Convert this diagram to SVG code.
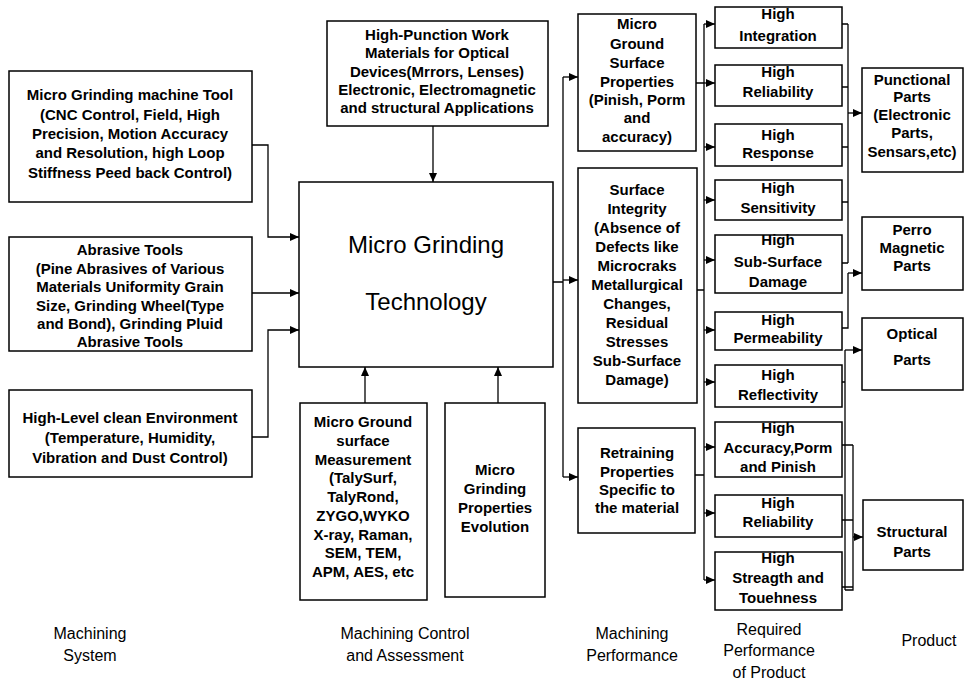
<svg xmlns="http://www.w3.org/2000/svg" width="964" height="684" viewBox="0 0 964 684">
<defs>
<marker id="ah" markerUnits="userSpaceOnUse" markerWidth="9" markerHeight="8" refX="9" refY="4" orient="auto">
<path d="M0,0 L9,4 L0,8 z" fill="#000"/>
</marker>
<style>
.box{fill:#fff;stroke:#000;stroke-width:1.5}
.t{font-family:"Liberation Sans",Arial,sans-serif;font-weight:bold;font-size:15px;text-anchor:middle;fill:#000}
.big{font-family:"Liberation Sans",Arial,sans-serif;font-size:24px;text-anchor:middle;fill:#000}
.lab{font-family:"Liberation Sans",Arial,sans-serif;font-size:16px;text-anchor:middle;fill:#000}
.c{fill:none;stroke:#000;stroke-width:1.3}
.a{fill:none;stroke:#000;stroke-width:1.3;marker-end:url(#ah)}
</style>
</defs>
<rect width="964" height="684" fill="#fff"/>

<g id="connectors">
<path class="a" d="M252,145 H268 V237 H299"/>
<path class="a" d="M252,293 H299"/>
<path class="a" d="M252,437 H268 V330 H299"/>
<path class="a" d="M433,126 V182"/>
<path class="a" d="M365,403 V367"/>
<path class="a" d="M498,403 V367"/>
<path class="c" d="M553,282 H563 M563,77 V477"/>
<path class="a" d="M563,77 H578"/>
<path class="a" d="M563,280 H578"/>
<path class="a" d="M563,477 H578"/>
<path class="c" d="M696,83 H704 M697,290 H704 M695,475 H704 M704,24 V580"/>
<path class="a" d="M704,24 H715"/>
<path class="a" d="M704,83 H715"/>
<path class="a" d="M704,147 H715"/>
<path class="a" d="M704,200 H715"/>
<path class="a" d="M704,260 H715"/>
<path class="a" d="M704,330 H715"/>
<path class="a" d="M704,382 H715"/>
<path class="a" d="M704,447 H715"/>
<path class="a" d="M704,513 H715"/>
<path class="a" d="M704,580 H715"/>
<path class="c" d="M842,24 H848 M842,87 H848 M842,147 H848 M842,202 H848 M842,263 H848 M848,24 V263"/>
<path class="a" d="M848,113 H862"/>
<path class="c" d="M842,328 H848 V273"/>
<path class="a" d="M848,273 H862"/>
<path class="c" d="M842,382 H845 M845,350 V590"/>
<path class="a" d="M845,350 H862"/>
<path class="c" d="M842,445 H853 M842,520 H853 M842,587 H853 M853,445 V590 H845"/>
<path class="a" d="M853,537 H863"/>
</g>

<g id="n-machine-tool">
<rect class="box" x="9" y="71" width="243" height="131"/>
<text class="t" x="130" y="100">Micro Grinding machine Tool</text>
<text class="t" x="130" y="120">(CNC Control, Field, High</text>
<text class="t" x="130" y="139">Precision, Motion Accuracy</text>
<text class="t" x="130" y="158">and Resolution, high Loop</text>
<text class="t" x="130" y="178">Stiffness Peed back Control)</text>
</g>
<g id="n-abrasive">
<rect class="box" x="9" y="237" width="243" height="114"/>
<text class="t" x="130" y="255">Abrasive Tools</text>
<text class="t" x="130" y="273.5">(Pine Abrasives of Various</text>
<text class="t" x="130" y="292">Materials Uniformity Grain</text>
<text class="t" x="130" y="310.5">Size, Grinding Wheel(Type</text>
<text class="t" x="130" y="329">and Bond), Grinding Pluid</text>
<text class="t" x="130" y="347">Abrasive Tools</text>
</g>
<g id="n-environment">
<rect class="box" x="9" y="390" width="243" height="87"/>
<text class="t" x="130" y="423">High-Level clean Environment</text>
<text class="t" x="130" y="443">(Temperature, Humidity,</text>
<text class="t" x="130" y="463">Vibration and Dust Control)</text>
</g>
<g id="n-materials">
<rect class="box" x="327" y="21" width="221" height="105"/>
<text class="t" x="437" y="40">High-Punction Work</text>
<text class="t" x="437" y="58">Materials for Optical</text>
<text class="t" x="437" y="77">Devices(Mrrors, Lenses)</text>
<text class="t" x="437" y="95">Electronic, Electromagnetic</text>
<text class="t" x="437" y="113">and structural Applications</text>
</g>
<g id="n-center">
<rect class="box" x="299" y="182" width="254" height="185"/>
<text class="big" x="426" y="253">Micro Grinding</text>
<text class="big" x="426" y="310">Technology</text>
</g>
<g id="n-measurement">
<rect class="box" x="300" y="403" width="127" height="197"/>
<text class="t" x="363" y="427">Micro Ground</text>
<text class="t" x="363" y="446">surface</text>
<text class="t" x="363" y="465">Measurement</text>
<text class="t" x="363" y="483">(TalySurf,</text>
<text class="t" x="363" y="502">TalyRond,</text>
<text class="t" x="363" y="521">ZYGO,WYKO</text>
<text class="t" x="363" y="540">X-ray, Raman,</text>
<text class="t" x="363" y="558">SEM, TEM,</text>
<text class="t" x="363" y="577">APM, AES, etc</text>
</g>
<g id="n-evolution">
<rect class="box" x="445" y="403" width="100" height="194"/>
<text class="t" x="495" y="475">Micro</text>
<text class="t" x="495" y="494">Grinding</text>
<text class="t" x="495" y="513">Properties</text>
<text class="t" x="495" y="532">Evolution</text>
</g>
<g id="n-surface-props">
<rect class="box" x="578" y="14" width="118" height="137"/>
<text class="t" x="637" y="29">Micro</text>
<text class="t" x="637" y="49">Ground</text>
<text class="t" x="637" y="68">Surface</text>
<text class="t" x="637" y="87">Properties</text>
<text class="t" x="637" y="105">(Pinish, Porm</text>
<text class="t" x="637" y="123">and</text>
<text class="t" x="637" y="142">accuracy)</text>
</g>
<g id="n-integrity">
<rect class="box" x="578" y="168" width="119" height="235"/>
<text class="t" x="637" y="195">Surface</text>
<text class="t" x="637" y="214">Integrity</text>
<text class="t" x="637" y="233">(Absence of</text>
<text class="t" x="637" y="252">Defects like</text>
<text class="t" x="637" y="271">Microcraks</text>
<text class="t" x="637" y="290">Metallurgical</text>
<text class="t" x="637" y="309">Changes,</text>
<text class="t" x="637" y="328">Residual</text>
<text class="t" x="637" y="347">Stresses</text>
<text class="t" x="637" y="366">Sub-Surface</text>
<text class="t" x="637" y="385">Damage)</text>
</g>
<g id="n-retraining">
<rect class="box" x="578" y="428" width="117" height="105"/>
<text class="t" x="637" y="458">Retraining</text>
<text class="t" x="637" y="477">Properties</text>
<text class="t" x="637" y="495">Specific to</text>
<text class="t" x="637" y="513">the material</text>
</g>

<g id="n-rp1"><rect class="box" x="715" y="7" width="127" height="41"/>
<text class="t" x="778" y="19">High</text><text class="t" x="778" y="41">Integration</text></g>
<g id="n-rp2"><rect class="box" x="715" y="65" width="127" height="41"/>
<text class="t" x="778" y="77">High</text><text class="t" x="778" y="97">Reliability</text></g>
<g id="n-rp3"><rect class="box" x="715" y="124" width="127" height="42"/>
<text class="t" x="778" y="140">High</text><text class="t" x="778" y="158">Response</text></g>
<g id="n-rp4"><rect class="box" x="715" y="180" width="127" height="40"/>
<text class="t" x="778" y="193">High</text><text class="t" x="778" y="213">Sensitivity</text></g>
<g id="n-rp5"><rect class="box" x="715" y="235" width="127" height="58"/>
<text class="t" x="778" y="245">High</text><text class="t" x="778" y="267">Sub-Surface</text><text class="t" x="778" y="287">Damage</text></g>
<g id="n-rp6"><rect class="box" x="715" y="312" width="127" height="38"/>
<text class="t" x="778" y="325">High</text><text class="t" x="778" y="343">Permeability</text></g>
<g id="n-rp7"><rect class="box" x="715" y="365" width="127" height="42"/>
<text class="t" x="778" y="380">High</text><text class="t" x="778" y="400">Reflectivity</text></g>
<g id="n-rp8"><rect class="box" x="715" y="422" width="127" height="55"/>
<text class="t" x="778" y="433">High</text><text class="t" x="778" y="453">Accuracy,Porm</text><text class="t" x="778" y="472">and Pinish</text></g>
<g id="n-rp9"><rect class="box" x="715" y="495" width="127" height="42"/>
<text class="t" x="778" y="508">High</text><text class="t" x="778" y="527">Reliability</text></g>
<g id="n-rp10"><rect class="box" x="715" y="552" width="127" height="58"/>
<text class="t" x="778" y="563">High</text><text class="t" x="778" y="583">Streagth and</text><text class="t" x="778" y="603">Touehness</text></g>

<g id="n-punctional"><rect class="box" x="862" y="68" width="101" height="104"/>
<text class="t" x="912" y="85">Punctional</text><text class="t" x="912" y="102">Parts</text><text class="t" x="912" y="120">(Electronic</text><text class="t" x="912" y="138">Parts,</text><text class="t" x="912" y="157">Sensars,etc)</text></g>
<g id="n-perro"><rect class="box" x="862" y="217" width="101" height="73"/>
<text class="t" x="912" y="235">Perro</text><text class="t" x="912" y="253">Magnetic</text><text class="t" x="912" y="271">Parts</text></g>
<g id="n-optical"><rect class="box" x="862" y="318" width="101" height="72"/>
<text class="t" x="912" y="339">Optical</text><text class="t" x="912" y="365">Parts</text></g>
<g id="n-structural"><rect class="box" x="863" y="500" width="100" height="70"/>
<text class="t" x="912" y="537">Structural</text><text class="t" x="912" y="557">Parts</text></g>

<g id="labels">
<text class="lab" x="90" y="639">Machining</text>
<text class="lab" x="90" y="661">System</text>
<text class="lab" x="405" y="639">Machining Control</text>
<text class="lab" x="405" y="661">and Assessment</text>
<text class="lab" x="632" y="639">Machining</text>
<text class="lab" x="632" y="661">Performance</text>
<text class="lab" x="769" y="635">Required</text>
<text class="lab" x="769" y="656">Performance</text>
<text class="lab" x="769" y="678">of Product</text>
<text class="lab" x="929" y="646">Product</text>
</g>
</svg>
